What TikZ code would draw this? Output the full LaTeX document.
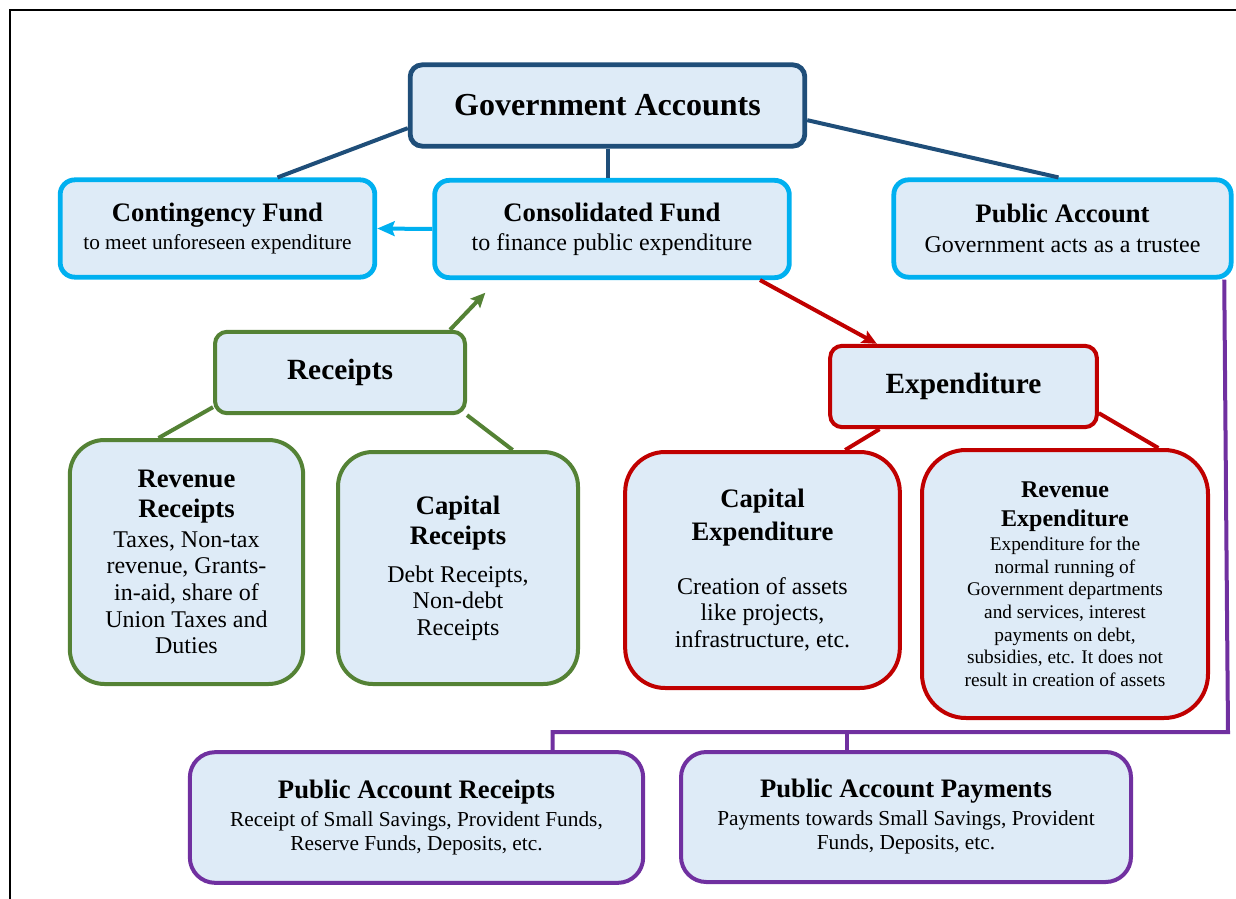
\documentclass[tikz,border=0pt]{standalone}
\usepackage{fontspec}
\setmainfont{Liberation Serif}
\usetikzlibrary{arrows.meta}

\definecolor{gablue}{HTML}{1F4E79}
\definecolor{fundcyan}{HTML}{00B0F0}
\definecolor{recgreen}{HTML}{548235}
\definecolor{expred}{HTML}{C00000}
\definecolor{pubpurple}{HTML}{7030A0}
\definecolor{boxfill}{HTML}{DEEBF7}

\newcommand{\hdfont}[2]{\fontsize{#1}{#2}\selectfont\bfseries}
\newcommand{\bdfont}[2]{\fontsize{#1}{#2}\selectfont\mdseries}

\tikzset{
  box/.style={draw, fill=boxfill, align=center, inner sep=0pt},
  gabox/.style={box, draw=gablue, line width=3.6pt, rounded corners=9pt},
  fundbox/.style={box, draw=fundcyan, line width=3.6pt, rounded corners=11pt},
  recbox/.style={box, draw=recgreen, line width=3pt},
  expbox/.style={box, draw=expred, line width=3pt},
  pubbox/.style={box, draw=pubpurple, line width=3pt, rounded corners=19pt},
  tip/.style={-{Stealth[length=11pt, width=10pt, inset=2pt]}}
}

\begin{document}
\begin{tikzpicture}[x=0.75pt, y=-0.75pt]
  \useasboundingbox (0,0) rectangle (1236,899);
  % frame
  \draw[line width=1.5pt] (10,899) -- (10,10) -- (1236,10);

  % top level
  \node[gabox, minimum width=296pt, minimum height=61pt] (ga) at (607.5,105.5)
    {\hdfont{24}{28}Government Accounts};

  \node[fundbox, minimum width=236pt, minimum height=73pt, font=\bdfont{16}{19}] (cont) at (217.5,228.5)
    {\hdfont{20}{23}Contingency Fund\\[2pt]\bdfont{16}{19}to meet unforeseen expenditure};
  \node[fundbox, minimum width=266pt, minimum height=73pt, font=\bdfont{18}{20}] (cons) at (612,229)
    {\hdfont{20}{23}Consolidated Fund\\[2pt]\bdfont{18}{20}to finance public expenditure};
  \node[fundbox, minimum width=253pt, minimum height=73pt, font=\bdfont{18}{20}] (pa) at (1062.5,228.5)
    {\hdfont{20}{23}Public Account\\[2pt]\bdfont{18}{20}Government acts as a trustee};

  % receipts side
  \node[recbox, rounded corners=9pt, minimum width=187.5pt, minimum height=61pt] (rec) at (340,372.5)
    {\hdfont{22}{26}Receipts};
  \node[recbox, rounded corners=26pt, minimum width=175pt, minimum height=183pt, font=\bdfont{18}{20}] (revrec) at (186.5,562)
    {\hdfont{20}{23}Revenue\\[3pt]\hdfont{20}{23}Receipts\\[2pt]\bdfont{18}{20}Taxes, Non-tax\\revenue, Grants-\\in-aid, share of\\Union Taxes and\\Duties};
  \node[recbox, rounded corners=26pt, minimum width=180pt, minimum height=174pt, font=\bdfont{18}{20}] (caprec) at (458,568)
    {\hdfont{20}{23}Capital\\[3pt]\hdfont{20}{23}Receipts\\[8pt]\bdfont{18}{20}Debt Receipts,\\Non-debt\\Receipts};

  % expenditure side
  \node[expbox, rounded corners=9pt, minimum width=200pt, minimum height=61pt] (exp) at (963.5,386.5)
    {\hdfont{22}{26}Expenditure};
  \node[expbox, rounded corners=30pt, minimum width=206pt, minimum height=177pt, font=\bdfont{18}{20}] (capexp) at (762.5,570)
    {\hdfont{20}{23}Capital\\[5pt]\hdfont{20}{23}Expenditure\\[20pt]\bdfont{18}{20}Creation of assets\\like projects,\\infrastructure, etc.};
  \node[expbox, rounded corners=33pt, minimum width=214.5pt, minimum height=201pt, font=\bdfont{14.5}{17}] (revexp) at (1065,584)
    {\hdfont{18}{21}Revenue\\[5pt]\hdfont{18}{21}Expenditure\\[1pt]\bdfont{14.5}{17}Expenditure for the\\normal running of\\Government departments\\and services, interest\\payments on debt,\\subsidies, etc. It does not\\result in creation of assets};

  % public account
  \node[pubbox, minimum width=340pt, minimum height=98pt, font=\bdfont{16}{18}] (par) at (416.5,817.5)
    {\hdfont{20}{23}Public Account Receipts\\[3pt]\bdfont{16}{18}Receipt of Small Savings, Provident Funds,\\Reserve Funds, Deposits, etc.};
  \node[pubbox, minimum width=337.5pt, minimum height=97.5pt, font=\bdfont{16}{18}] (pap) at (906,817)
    {\hdfont{20}{23}Public Account Payments\\[3pt]\bdfont{16}{18}Payments towards Small Savings, Provident\\Funds, Deposits, etc.};

  % connectors
  \draw[gablue, line width=3pt] ([yshift=-17pt]ga.west) -- ([xshift=45pt]cont.north);
  \draw[gablue, line width=3pt] (ga.south) -- (ga.south |- cons.north);
  \draw[gablue, line width=3pt] ([yshift=-11pt]ga.east) -- ([xshift=-3pt]pa.north);

  \draw[fundcyan, line width=3pt, -{Stealth[length=13pt, width=11pt, inset=2pt]}] (cons.west) -- (cont.east);

  \coordinate (rectip) at ([xshift=-95pt, yshift=-9.5pt]cons.south);
  \draw[recgreen, line width=3pt, tip] ([xshift=82.5pt]rec.north) -- (rectip);
  \draw[recgreen, line width=3pt] ([yshift=6pt]rec.south west) -- ([xshift=-21pt]revrec.north);
  \draw[recgreen, line width=3pt] (rec.south east) -- ([xshift=41pt]caprec.north);

  \draw[expred, line width=3pt, tip] ([xshift=111pt]cons.south) -- ([xshift=-65pt]exp.north);
  \draw[expred, line width=3pt] ([xshift=-63pt]exp.south) -- ([xshift=62pt]capexp.north);
  \draw[expred, line width=3pt] ([yshift=-20pt]exp.east) -- ([xshift=70pt]revexp.north);

  \coordinate (pubcorner) at (1228,732);
  \coordinate (parin) at ([xshift=102pt]par.north);
  \coordinate (papin) at ([xshift=-44pt]pap.north);
  \draw[pubpurple, line width=3pt] ([xshift=-7pt]pa.south east) -- (pubcorner) -- (pubcorner -| parin) -- (parin);
  \draw[pubpurple, line width=3pt] (pubcorner -| papin) -- (papin);
\end{tikzpicture}
\end{document}
